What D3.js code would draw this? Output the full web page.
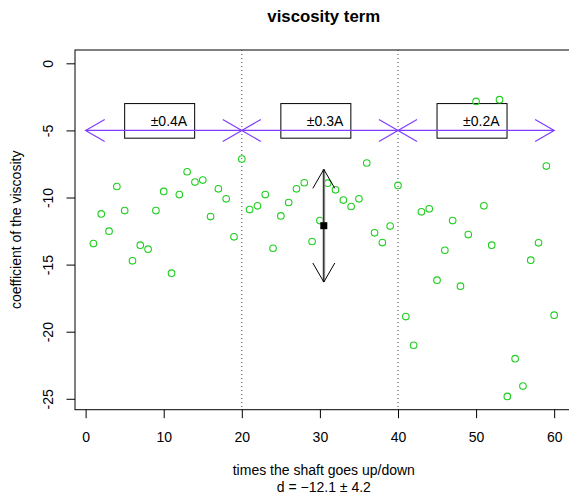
<!DOCTYPE html>
<html>
<head>
<meta charset="utf-8">
<script src="https://cdn.jsdelivr.net/npm/d3@7"></script>
<style>
  html, body { margin: 0; padding: 0; background: #fff; }
  svg { display: block; font-family: "Liberation Sans", Arial, Helvetica, sans-serif; }
</style>
</head>
<body>
<svg id="chart" width="569" height="499"></svg>
<script>
// Measured viscosity coefficient per shaft stroke
const strokes = d3.range(1, 61);
const coefficients = [
  -13.43, -11.22, -12.51, -9.18, -10.97, -14.72, -13.55, -13.85, -10.97, -9.55,
  -15.64, -9.78, -8.08, -8.85, -8.70, -11.42, -9.35, -10.10, -12.93, -7.13,
  -10.90, -10.62, -9.78, -13.78, -11.37, -10.37, -9.35, -8.90, -13.28, -11.72,
  -8.93, -9.43, -10.19, -10.67, -10.10, -7.43, -12.63, -13.36, -12.13, -9.10,
  -18.87, -21.01, -11.07, -10.84, -16.16, -13.93, -11.72, -16.61, -12.76, -2.84,
  -10.62, -13.55, -2.71, -24.82, -22.01, -24.05, -14.67, -13.38, -7.66, -18.77
];

// Current amplitude bands: [start, end] in strokes, legend anchor, label
const bandRanges = [[0, 20], [20, 40], [40, 60]];
const bandLegendX = [5, 25, 45];
const bandLabels = ["±0.4A", "±0.3A", "±0.2A"];
const bandLevel = -5;
const legendTop = -3;
const bandDividers = [20, 40];

// Summary statistics
const meanValue = -12.1;
const sdValue = 4.2;

const xTicks = [0, 10, 20, 30, 40, 50, 60];
const yTicks = [0, -5, -10, -15, -20, -25];

const title = "viscosity term";
const xLabel = "times the shaft goes up/down";
const yLabel = "coefficient of the viscosity";
const statLabel = "d = \u221212.1 \u00b1 4.2";

const svg = d3.select("#chart");
const plotLeft = 75, plotTop = 50, plotW = 497.6, plotH = 359.7;

// R-style 4% padding around the data range
const xMin = d3.min(strokes), xMax = d3.max(strokes);
const xPad = 0.04 * (xMax - xMin);
const yLo = d3.min(coefficients), yHi = 0;
const yPad = 0.04 * (yHi - yLo);

const x = d3.scaleLinear().domain([xMin - xPad, xMax + xPad]).range([plotLeft, plotLeft + plotW]);
const y = d3.scaleLinear().domain([yLo - yPad, yHi + yPad]).range([plotTop + plotH, plotTop]);

const fontSize = 14;
const purple = "#7f3cff";
const green = "#1ecf1e";

// Title
svg.append("text")
  .attr("x", plotLeft + plotW / 2).attr("y", 22)
  .attr("text-anchor", "middle")
  .attr("font-weight", "bold").attr("font-size", 16.8)
  .text(title);

// Plot frame
svg.append("rect")
  .attr("x", plotLeft).attr("y", plotTop).attr("width", plotW).attr("height", plotH)
  .attr("fill", "none").attr("stroke", "#000").attr("stroke-width", 1);

// Axes
const xAxis = d3.axisBottom(x).tickValues(xTicks).tickSize(8.5).tickPadding(14)
  .tickFormat(d3.format("d"));
const gx = svg.append("g").attr("transform", `translate(0,${plotTop + plotH})`).call(xAxis);
gx.select(".domain").remove();
gx.selectAll("text").attr("font-size", fontSize).attr("font-family", null).attr("fill", "#000");

const yAxis = d3.axisLeft(y).tickValues(yTicks).tickSize(8.5).tickPadding(0)
  .tickFormat(d => String(d));
const gy = svg.append("g").attr("transform", `translate(${plotLeft},0)`).call(yAxis);
gy.select(".domain").remove();
// Vertical tick labels, read bottom-to-top, sitting left of the ticks
gy.selectAll(".tick text")
  .attr("font-size", fontSize).attr("font-family", null).attr("fill", "#000")
  .attr("x", null).attr("dy", null)
  .attr("text-anchor", "middle")
  .attr("transform", "rotate(-90)")
  .attr("y", -22);

// Axis titles
svg.append("text")
  .attr("x", plotLeft + plotW / 2).attr("y", 475)
  .attr("text-anchor", "middle").attr("font-size", fontSize)
  .text(xLabel);
svg.append("text")
  .attr("x", plotLeft + plotW / 2).attr("y", 492)
  .attr("text-anchor", "middle").attr("font-size", fontSize)
  .text(statLabel);
svg.append("text")
  .attr("transform", `translate(21,${plotTop + plotH / 2}) rotate(-90)`)
  .attr("text-anchor", "middle").attr("font-size", fontSize)
  .text(yLabel);

// Dotted band dividers
svg.append("g").selectAll("line").data(bandDividers).join("line")
  .attr("x1", d => x(d)).attr("x2", d => x(d))
  .attr("y1", plotTop).attr("y2", plotTop + plotH)
  .attr("stroke", "#444").attr("stroke-width", 1)
  .attr("stroke-dasharray", "1,3");

// Arrow head helper: two wings at the tip (tx,ty) pointing along angle ang
const headLen = 22, headAng = Math.PI / 6;
function headPath(tx, ty, ang) {
  const a1 = ang + Math.PI - headAng, a2 = ang + Math.PI + headAng;
  return `M${tx + headLen * Math.cos(a1)},${ty + headLen * Math.sin(a1)}L${tx},${ty}` +
         `L${tx + headLen * Math.cos(a2)},${ty + headLen * Math.sin(a2)}`;
}

// Band legends
const legendW = 70, legendH = 34.6;
const lg = svg.append("g");
bandLegendX.forEach((bx, i) => {
  lg.append("rect")
    .attr("x", x(bx)).attr("y", y(legendTop))
    .attr("width", legendW).attr("height", legendH)
    .attr("fill", "none").attr("stroke", "#000").attr("stroke-width", 1);
  lg.append("text")
    .attr("x", x(bx) + 26).attr("y", y(legendTop) + legendH / 2 + 5)
    .attr("font-size", fontSize)
    .text(bandLabels[i]);
});

// Double-headed band arrows
const ba = svg.append("g").attr("stroke", purple).attr("fill", "none").attr("stroke-width", 1.2);
bandRanges.forEach(([a, b]) => {
  const x1 = x(a), x2 = x(b), yy = y(bandLevel);
  ba.append("line").attr("x1", x1).attr("x2", x2).attr("y1", yy).attr("y2", yy);
  ba.append("path").attr("d", headPath(x1, yy, Math.PI));
  ba.append("path").attr("d", headPath(x2, yy, 0));
});

// Observations
svg.append("g").selectAll("circle").data(strokes).join("circle")
  .attr("cx", d => x(d)).attr("cy", (d, i) => y(coefficients[i]))
  .attr("r", 3.3)
  .attr("fill", "none").attr("stroke", green).attr("stroke-width", 1.1);

// Mean with ±1 sd arrow
const mx = x((xMin + xMax) / 2);
const yTopArrow = y(meanValue + sdValue), yBotArrow = y(meanValue - sdValue);
svg.append("line")
  .attr("x1", mx).attr("x2", mx).attr("y1", yTopArrow).attr("y2", yBotArrow)
  .attr("stroke", "#bbb").attr("stroke-width", 3);
const sa = svg.append("g").attr("stroke", "#000").attr("fill", "none").attr("stroke-width", 1);
sa.append("line").attr("x1", mx).attr("x2", mx).attr("y1", yTopArrow).attr("y2", yBotArrow);
sa.append("path").attr("d", headPath(mx, yTopArrow, -Math.PI / 2));
sa.append("path").attr("d", headPath(mx, yBotArrow, Math.PI / 2));
svg.append("rect")
  .attr("x", mx - 3.5).attr("y", y(meanValue) - 3.5)
  .attr("width", 7).attr("height", 7).attr("fill", "#000");
</script>
</body>
</html>
